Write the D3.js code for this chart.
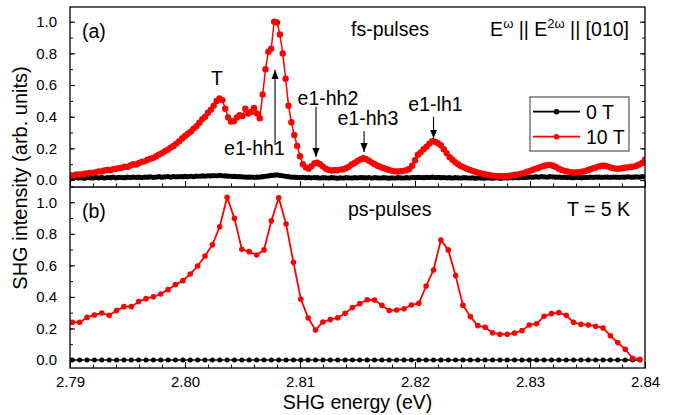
<!DOCTYPE html>
<html><head><meta charset="utf-8">
<script src="https://cdn.jsdelivr.net/npm/d3@7"></script>
<style>
html,body{margin:0;padding:0;background:#fff;}
svg{display:block;font-family:"Liberation Sans",Arial,sans-serif;}
</style></head>
<body>
<svg id="chart" width="678" height="415"></svg>
<script>
// ---------------- DATA ----------------
// Panel (a): fs-pulses, dense scan
const energyA = [
2.79,2.79025,2.7905,2.79075,2.791,2.79125,2.7915,2.79175,2.792,2.79225,
2.7925,2.79275,2.793,2.79325,2.7935,2.79375,2.794,2.79425,2.7945,2.79475,
2.795,2.79525,2.7955,2.79575,2.796,2.79625,2.7965,2.79675,2.797,2.79725,
2.7975,2.79775,2.798,2.79825,2.7985,2.79875,2.799,2.79925,2.7995,2.79975,
2.8,2.80025,2.8005,2.80075,2.801,2.80125,2.8015,2.80175,2.802,2.80225,
2.8025,2.80275,2.803,2.80325,2.8035,2.80375,2.804,2.80425,2.8045,2.80475,
2.805,2.80525,2.8055,2.80575,2.806,2.80625,2.8065,2.80675,2.807,2.80725,
2.8075,2.80775,2.808,2.80825,2.8085,2.80875,2.809,2.80925,2.8095,2.80975,
2.81,2.81025,2.8105,2.81075,2.811,2.81125,2.8115,2.81175,2.812,2.81225,
2.8125,2.81275,2.813,2.81325,2.8135,2.81375,2.814,2.81425,2.8145,2.81475,
2.815,2.81525,2.8155,2.81575,2.816,2.81625,2.8165,2.81675,2.817,2.81725,
2.8175,2.81775,2.818,2.81825,2.8185,2.81875,2.819,2.81925,2.8195,2.81975,
2.82,2.82025,2.8205,2.82075,2.821,2.82125,2.8215,2.82175,2.822,2.82225,
2.8225,2.82275,2.823,2.82325,2.8235,2.82375,2.824,2.82425,2.8245,2.82475,
2.825,2.82525,2.8255,2.82575,2.826,2.82625,2.8265,2.82675,2.827,2.82725,
2.8275,2.82775,2.828,2.82825,2.8285,2.82875,2.829,2.82925,2.8295,2.82975,
2.83,2.83025,2.8305,2.83075,2.831,2.83125,2.8315,2.83175,2.832,2.83225,
2.8325,2.83275,2.833,2.83325,2.8335,2.83375,2.834,2.83425,2.8345,2.83475,
2.835,2.83525,2.8355,2.83575,2.836,2.83625,2.8365,2.83675,2.837,2.83725,
2.8375,2.83775,2.838,2.83825,2.8385,2.83875,2.839,2.83925,2.8395,2.83975,
2.84];
const redA = [
0.030,0.028,0.033,0.036,0.035,0.040,0.042,0.045,0.044,0.050,
0.055,0.054,0.060,0.063,0.062,0.068,0.072,0.075,0.078,0.085,
0.083,0.092,0.100,0.098,0.108,0.115,0.118,0.128,0.135,0.140,
0.150,0.162,0.170,0.182,0.192,0.205,0.215,0.230,0.245,0.262,
0.278,0.292,0.305,0.325,0.340,0.362,0.385,0.400,0.425,0.445,
0.470,0.500,0.515,0.505,0.450,0.395,0.370,0.372,0.395,0.410,
0.405,0.450,0.420,0.430,0.455,0.420,0.390,0.540,0.700,0.810,
0.830,1.000,0.995,0.920,0.800,0.640,0.470,0.365,0.285,0.215,
0.150,0.100,0.080,0.072,0.088,0.105,0.110,0.100,0.085,0.072,
0.064,0.060,0.062,0.062,0.066,0.068,0.075,0.085,0.098,0.108,
0.120,0.130,0.138,0.132,0.122,0.110,0.100,0.090,0.082,0.076,
0.070,0.064,0.058,0.055,0.054,0.056,0.058,0.062,0.070,0.090,
0.125,0.160,0.175,0.195,0.210,0.230,0.245,0.242,0.232,0.220,
0.195,0.170,0.145,0.128,0.112,0.100,0.088,0.080,0.072,0.065,
0.058,0.052,0.046,0.042,0.038,0.034,0.030,0.028,0.026,0.025,
0.024,0.025,0.026,0.028,0.030,0.033,0.036,0.040,0.045,0.052,
0.058,0.065,0.072,0.078,0.085,0.090,0.094,0.095,0.090,0.082,
0.072,0.064,0.058,0.054,0.050,0.048,0.048,0.050,0.052,0.056,
0.062,0.068,0.074,0.080,0.086,0.090,0.090,0.086,0.080,0.075,
0.072,0.072,0.075,0.078,0.080,0.082,0.085,0.090,0.098,0.108,
0.128];
const blackA = [
0.015,0.012,0.016,0.013,0.015,0.011,0.016,0.014,0.013,0.016,
0.014,0.017,0.013,0.016,0.015,0.018,0.014,0.017,0.016,0.015,
0.018,0.016,0.019,0.017,0.018,0.016,0.019,0.018,0.020,0.017,
0.019,0.021,0.018,0.020,0.022,0.019,0.021,0.020,0.022,0.021,
0.023,0.021,0.024,0.022,0.025,0.024,0.026,0.025,0.027,0.026,
0.028,0.027,0.029,0.027,0.026,0.025,0.024,0.023,0.022,0.021,
0.020,0.019,0.018,0.019,0.017,0.018,0.019,0.021,0.024,0.026,
0.029,0.031,0.032,0.030,0.027,0.024,0.021,0.019,0.018,0.017,
0.016,0.017,0.015,0.016,0.014,0.016,0.015,0.013,0.015,0.014,
0.013,0.015,0.014,0.012,0.014,0.013,0.015,0.014,0.013,0.015,
0.014,0.016,0.015,0.014,0.016,0.013,0.015,0.014,0.013,0.015,
0.014,0.012,0.014,0.013,0.015,0.014,0.013,0.015,0.014,0.016,
0.015,0.017,0.016,0.015,0.017,0.016,0.018,0.016,0.017,0.015,
0.016,0.014,0.015,0.013,0.015,0.014,0.013,0.015,0.014,0.013,
0.014,0.012,0.014,0.013,0.012,0.014,0.013,0.012,0.014,0.013,
0.012,0.014,0.013,0.015,0.014,0.016,0.015,0.017,0.016,0.018,
0.019,0.018,0.020,0.019,0.021,0.020,0.019,0.021,0.020,0.018,
0.019,0.017,0.018,0.016,0.017,0.015,0.017,0.016,0.015,0.017,
0.016,0.018,0.017,0.019,0.018,0.017,0.019,0.018,0.017,0.019,
0.018,0.017,0.019,0.018,0.020,0.019,0.018,0.020,0.019,0.021,
0.020];

// Panel (b): ps-pulses
const energyB = [
2.7902,2.79084,2.79148,2.79212,2.79276,2.79341,2.79405,2.79469,2.79533,2.79597,
2.79661,2.79725,2.79789,2.79853,2.79917,2.79982,2.80046,2.8011,2.80174,2.80238,
2.80302,2.80366,2.8043,2.80494,2.80558,2.80623,2.80687,2.80751,2.80815,2.80879,
2.80943,2.81007,2.81071,2.81135,2.81199,2.81264,2.81328,2.81392,2.81456,2.8152,
2.81584,2.81648,2.81712,2.81776,2.8184,2.81905,2.81969,2.82033,2.82097,2.82161,
2.82225,2.82289,2.82353,2.82417,2.82481,2.82546,2.8261,2.82674,2.82738,2.82802,
2.82866,2.8293,2.82994,2.83058,2.83122,2.83187,2.83251,2.83315,2.83379,2.83443,
2.83507,2.83571,2.83635,2.83699,2.83763,2.83828,2.83892,2.83956];
const redB = [
0.239,0.239,0.270,0.285,0.298,0.283,0.313,0.338,0.338,0.370,
0.389,0.401,0.418,0.446,0.478,0.503,0.545,0.596,0.659,0.731,
0.845,1.032,0.898,0.702,0.687,0.666,0.698,0.883,1.029,0.862,
0.619,0.387,0.266,0.190,0.241,0.256,0.268,0.296,0.332,0.357,
0.382,0.380,0.347,0.313,0.317,0.325,0.349,0.359,0.469,0.571,
0.761,0.698,0.535,0.347,0.275,0.218,0.207,0.173,0.163,0.163,
0.171,0.186,0.222,0.230,0.277,0.294,0.300,0.283,0.239,0.226,
0.222,0.214,0.203,0.154,0.110,0.068,0.011,0.004];
const blackB = [
0,0,0,0,0,0,0,0,0,0, 0,0,0,0,0,0,0,0,0,0,
0,0,0,0,0,0,0,0,0,0, 0,0,0,0,0,0,0,0,0,0,
0,0,0,0,0,0,0,0,0,0, 0,0,0,0,0,0,0,0,0,0,
0,0,0,0,0,0,0,0,0,0, 0,0,0,0,0,0,0,0];

const xTickLabels = [2.79, 2.80, 2.81, 2.82, 2.83, 2.84];
const yTickLabels = [0.0, 0.2, 0.4, 0.6, 0.8, 1.0];
const legendLabels = ["0 T", "10 T"];
const annotations = [
  {text: "T",      e: 2.80278, v: 0.600},
  {text: "e1-hh1", e: 2.80604, v: 0.158},
  {text: "e1-hh2", e: 2.81243, v: 0.477},
  {text: "e1-hh3", e: 2.81591, v: 0.347},
  {text: "e1-lh1", e: 2.82178, v: 0.433}
];
const arrows = [
  {e: 2.80783, from: 0.221, to: 0.695},
  {e: 2.81139, from: 0.463, to: 0.145},
  {e: 2.81557, from: 0.310, to: 0.177},
  {e: 2.82161, from: 0.400, to: 0.262}
];

// ---------------- LAYOUT ----------------
const L = 70, R = 645, TA = 7, MID = 187, BB = 368;
const RED = "#ff0000", BLK = "#000000";
const svg = d3.select("#chart");
svg.append("rect").attr("width",678).attr("height",415).attr("fill","#fff");

const x = d3.scaleLinear().domain([2.79, 2.84]).range([L, R]);
const yA = d3.scaleLinear().domain([-0.044, 1.093]).range([MID, TA]);
const yB = d3.scaleLinear().domain([-0.051, 1.097]).range([BB, MID]);

const defs = svg.append("defs");
defs.append("clipPath").attr("id","clipA").append("rect")
  .attr("x",L).attr("y",TA).attr("width",R-L).attr("height",MID-TA);
defs.append("clipPath").attr("id","clipB").append("rect")
  .attr("x",L).attr("y",MID).attr("width",R-L).attr("height",BB-MID);
defs.append("marker").attr("id","arrowHead")
  .attr("viewBox","0 0 10 10").attr("refX",10).attr("refY",5)
  .attr("markerWidth",9).attr("markerHeight",9).attr("markerUnits","userSpaceOnUse")
  .attr("orient","auto")
  .append("path").attr("d","M0,1 L10,5 L0,9 Z").attr("fill","#000");

// ---------- axes ----------
const fmt1 = d3.format(".1f");
const fmt2 = d3.format(".2f");
const yMinor = d3.range(0, 1.1001, 0.1).map(v => +v.toFixed(2));
const xMinor = d3.range(2.79, 2.8401, 0.002).map(v => +v.toFixed(3));

function styleAxis(g){
  g.select(".domain").remove();
  g.selectAll("line").attr("stroke","#000").attr("stroke-width",1);
  g.selectAll("text").attr("fill","#000").attr("font-family","Liberation Sans, Arial, sans-serif");
}

// panel a: left
svg.append("g").attr("transform",`translate(${L},0)`)
  .call(d3.axisLeft(yA).tickValues(yMinor.filter(v=>v<=1.09)).tickSize(-3).tickFormat(""))
  .call(styleAxis);
svg.append("g").attr("transform",`translate(${L},0)`)
  .call(d3.axisLeft(yA).tickValues(yTickLabels).tickSize(-5).tickPadding(13).tickFormat(fmt1))
  .call(styleAxis).selectAll("text").attr("font-size",15);
// panel a: right
svg.append("g").attr("transform",`translate(${R},0)`)
  .call(d3.axisRight(yA).tickValues(yMinor.filter(v=>v<=1.09)).tickSize(-3).tickFormat(""))
  .call(styleAxis);
svg.append("g").attr("transform",`translate(${R},0)`)
  .call(d3.axisRight(yA).tickValues(yTickLabels).tickSize(-5).tickFormat(""))
  .call(styleAxis);
// panel a: bottom (ticks up)
svg.append("g").attr("transform",`translate(0,${MID})`)
  .call(d3.axisBottom(x).tickValues(xMinor).tickSize(-3.5).tickFormat(""))
  .call(styleAxis);
svg.append("g").attr("transform",`translate(0,${MID})`)
  .call(d3.axisBottom(x).tickValues(xTickLabels).tickSize(-6).tickFormat(""))
  .call(styleAxis);

// panel b: left
svg.append("g").attr("transform",`translate(${L},0)`)
  .call(d3.axisLeft(yB).tickValues(yMinor).tickSize(-3).tickFormat(""))
  .call(styleAxis);
svg.append("g").attr("transform",`translate(${L},0)`)
  .call(d3.axisLeft(yB).tickValues(yTickLabels).tickSize(-5).tickPadding(13).tickFormat(fmt1))
  .call(styleAxis).selectAll("text").attr("font-size",15);
// panel b: bottom
svg.append("g").attr("transform",`translate(0,${BB})`)
  .call(d3.axisBottom(x).tickValues(xMinor).tickSize(-3.5).tickFormat(""))
  .call(styleAxis);
svg.append("g").attr("transform",`translate(0,${BB})`)
  .call(d3.axisBottom(x).tickValues(xTickLabels).tickSize(-6).tickPadding(8.5).tickFormat(fmt2))
  .call(styleAxis).selectAll("text").attr("font-size",15);

// ---------- data ----------
function drawSeries(clip, yS, ex, vals, color, r, lw){
  const g = svg.append("g").attr("clip-path",`url(#${clip})`);
  const pts = ex.map((e,i)=>[e, vals[i]]);
  g.append("path").datum(pts)
    .attr("fill","none").attr("stroke",color).attr("stroke-width",lw)
    .attr("stroke-linejoin","round")
    .attr("d", d3.line().x(d=>x(d[0])).y(d=>yS(d[1])));
  g.selectAll("circle").data(pts).join("circle")
    .attr("cx",d=>x(d[0])).attr("cy",d=>yS(d[1])).attr("r",r).attr("fill",color);
}
drawSeries("clipA", yA, energyA, blackA, BLK, 2.6, 1.5);
drawSeries("clipA", yA, energyA, redA, RED, 3.2, 1.5);
drawSeries("clipB", yB, energyB, blackB, BLK, 2.5, 1.5);
drawSeries("clipB", yB, energyB, redB, RED, 2.8, 1.8);

// ---------- frame ----------
const frame = svg.append("g").attr("fill","none").attr("stroke","#000").attr("stroke-width",1.3);
frame.append("rect").attr("x",L).attr("y",TA).attr("width",R-L).attr("height",BB-TA);
frame.append("line").attr("x1",L).attr("x2",R).attr("y1",MID).attr("y2",MID);

// ---------- annotations ----------
const ann = svg.append("g").attr("font-size",19.5).attr("fill","#000");
annotations.forEach(a=>{
  ann.append("text").attr("x",x(a.e)).attr("y",yA(a.v)).attr("text-anchor","middle").text(a.text);
});
arrows.forEach(a=>{
  svg.append("line").attr("x1",x(a.e)).attr("x2",x(a.e))
    .attr("y1",yA(a.from)).attr("y2",yA(a.to))
    .attr("stroke","#000").attr("stroke-width",1.1)
    .attr("marker-end","url(#arrowHead)");
});

ann.append("text").attr("x",82).attr("y",38).text("(a)");
ann.append("text").attr("x",351).attr("y",36).text("fs-pulses");
const pol = ann.append("text").attr("x",629).attr("y",36).attr("text-anchor","end");
pol.append("tspan").text("E");
pol.append("tspan").attr("font-size",13).attr("dy",-8).text("ω");
pol.append("tspan").attr("dy",8).text(" || E");
pol.append("tspan").attr("font-size",13).attr("dy",-8).text("2ω");
pol.append("tspan").attr("dy",8).text(" || [010]");

ann.append("text").attr("x",82).attr("y",218).text("(b)");
ann.append("text").attr("x",348).attr("y",216).text("ps-pulses");
ann.append("text").attr("x",630).attr("y",216).attr("text-anchor","end").text("T = 5 K");

// ---------- legend ----------
const lg = svg.append("g");
lg.append("rect").attr("x",530).attr("y",97).attr("width",99).attr("height",54)
  .attr("fill","#fff").attr("stroke","#333").attr("stroke-width",1);
[[BLK,111.7],[RED,136.7]].forEach((c,i)=>{
  lg.append("line").attr("x1",533).attr("x2",580).attr("y1",c[1]).attr("y2",c[1])
    .attr("stroke",c[0]).attr("stroke-width",1.8);
  lg.append("circle").attr("cx",556.5).attr("cy",c[1]).attr("r",2.8).attr("fill",c[0]);
  lg.append("text").attr("x",586).attr("y",c[1]+7).attr("font-size",19.5).text(legendLabels[i]);
});

// ---------- axis titles ----------
svg.append("text").attr("transform","translate(27,178) rotate(-90)")
  .attr("text-anchor","middle").attr("font-size",20).text("SHG intensity (arb. units)");
svg.append("text").attr("x",357.5).attr("y",408.5)
  .attr("text-anchor","middle").attr("font-size",19.5).text("SHG energy (eV)");
</script>
</body></html>
